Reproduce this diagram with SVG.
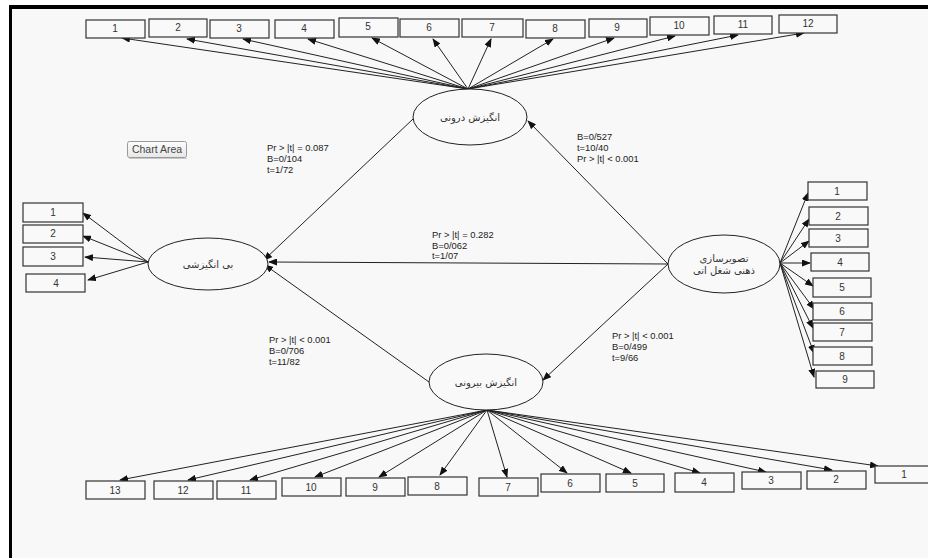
<svg xmlns="http://www.w3.org/2000/svg" width="928" height="558" viewBox="0 0 928 558">
<defs>
<marker id="ah" markerWidth="9" markerHeight="7" refX="8" refY="3.5" orient="auto" markerUnits="userSpaceOnUse">
<path d="M0,0 L9,3.5 L0,7 z" fill="#111"/>
</marker>
<linearGradient id="btn" x1="0" y1="0" x2="0" y2="1">
<stop offset="0" stop-color="#fdfdfd"/>
<stop offset="1" stop-color="#e6e6e6"/>
</linearGradient>
</defs>
<style>
.box{fill:#f9f9f9;stroke:#333;stroke-width:1.2}
.bt{font-family:"Liberation Sans",Arial,sans-serif;font-size:10px;fill:#333;text-anchor:middle}
.ell{fill:#f9f9f9;stroke:#222;stroke-width:1}
.fa{font-family:"DejaVu Sans","Noto Sans",sans-serif;font-size:10px;fill:#333;text-anchor:middle}
.lab{font-family:"Liberation Sans",Arial,sans-serif;font-size:9.4px;fill:#222}
.c line{stroke:#222;stroke-width:1;marker-end:url(#ah)}
</style>
<rect x="0" y="0" width="928" height="558" fill="#ffffff"/>
<rect x="10" y="7" width="918" height="551" fill="#f8f8f8"/>
<line x1="9" y1="7" x2="928" y2="7" stroke="#000" stroke-width="4"/>
<line x1="10.5" y1="5" x2="10.5" y2="558" stroke="#000" stroke-width="3"/>

<g id="chart-area">
<rect x="127.5" y="141.5" width="59" height="16" rx="2" fill="url(#btn)" stroke="#9a9a9a"/>
<line x1="129" y1="158.5" x2="187" y2="158.5" stroke="#c8c8c8"/>
<text x="157" y="153" font-family="Liberation Sans,Arial,sans-serif" font-size="10.5" fill="#444" text-anchor="middle">Chart Area</text>
</g>

<g id="connectors" class="c">
<line x1="468" y1="89" x2="122" y2="38"/>
<line x1="468" y1="89" x2="187" y2="39"/>
<line x1="468" y1="89" x2="243" y2="39"/>
<line x1="468" y1="89" x2="308" y2="39"/>
<line x1="468" y1="89" x2="372" y2="38"/>
<line x1="468" y1="89" x2="433" y2="39"/>
<line x1="468" y1="89" x2="491" y2="39"/>
<line x1="468" y1="89" x2="553" y2="39"/>
<line x1="468" y1="89" x2="614" y2="38"/>
<line x1="468" y1="89" x2="675" y2="36"/>
<line x1="468" y1="89" x2="738" y2="35"/>
<line x1="468" y1="89" x2="804" y2="33"/>
<line x1="148" y1="262" x2="83" y2="213"/>
<line x1="148" y1="262" x2="83" y2="236"/>
<line x1="148" y1="262" x2="85" y2="257"/>
<line x1="148" y1="262" x2="88" y2="280"/>
<line x1="780" y1="263" x2="808" y2="193"/>
<line x1="780" y1="263" x2="809" y2="219"/>
<line x1="780" y1="263" x2="809" y2="241"/>
<line x1="780" y1="263" x2="810" y2="263"/>
<line x1="780" y1="263" x2="813" y2="286"/>
<line x1="780" y1="263" x2="814" y2="309"/>
<line x1="780" y1="263" x2="813" y2="328"/>
<line x1="780" y1="263" x2="814" y2="353"/>
<line x1="780" y1="263" x2="814" y2="377"/>
<line x1="487" y1="410" x2="120" y2="480"/>
<line x1="487" y1="410" x2="188" y2="480"/>
<line x1="487" y1="410" x2="250" y2="480"/>
<line x1="487" y1="410" x2="315" y2="477"/>
<line x1="487" y1="410" x2="379" y2="477"/>
<line x1="487" y1="410" x2="440" y2="475"/>
<line x1="487" y1="410" x2="507" y2="477"/>
<line x1="487" y1="410" x2="567" y2="473"/>
<line x1="487" y1="410" x2="631" y2="473"/>
<line x1="487" y1="410" x2="700" y2="473"/>
<line x1="487" y1="410" x2="766" y2="472"/>
<line x1="487" y1="410" x2="832" y2="470"/>
<line x1="487" y1="410" x2="878" y2="466"/>
<line x1="668" y1="264" x2="528" y2="121"/>
<line x1="413" y1="119" x2="264" y2="260"/>
<line x1="668" y1="264" x2="269" y2="262"/>
<line x1="429" y1="382" x2="265" y2="265"/>
<line x1="668" y1="264" x2="543" y2="380"/>
</g>

<g id="n-darooni">
<ellipse class="ell" cx="470" cy="117" rx="57" ry="28"/>
<text class="fa" x="470" y="121" direction="rtl">انگیزش درونی</text>
</g>
<g id="n-bianghizeshi">
<ellipse class="ell" cx="208" cy="264" rx="60" ry="26"/>
<text class="fa" x="208" y="268" direction="rtl">بی انگیزشی</text>
</g>
<g id="n-tasvirsazi">
<ellipse class="ell" cx="724" cy="264" rx="56" ry="29"/>
<text class="fa" x="724" y="262" direction="rtl">تصویرسازی</text>
<text class="fa" x="724" y="274" direction="rtl">ذهنی شغل اتی</text>
</g>
<g id="n-birooni">
<ellipse class="ell" cx="486" cy="382" rx="57" ry="28"/>
<text class="fa" x="486" y="386" direction="rtl">انگیزش بیرونی</text>
</g>

<g id="top-items">
<g id="t1"><rect class="box" x="86" y="20" width="59" height="18"/><text class="bt" x="115" y="32">1</text></g>
<g id="t2"><rect class="box" x="149" y="19" width="58" height="18"/><text class="bt" x="178" y="31">2</text></g>
<g id="t3"><rect class="box" x="210" y="20" width="59" height="18"/><text class="bt" x="239" y="32">3</text></g>
<g id="t4"><rect class="box" x="275" y="20" width="59" height="18"/><text class="bt" x="304" y="32">4</text></g>
<g id="t5"><rect class="box" x="339" y="18" width="59" height="19"/><text class="bt" x="368" y="30">5</text></g>
<g id="t6"><rect class="box" x="400" y="19" width="59" height="18"/><text class="bt" x="429" y="31">6</text></g>
<g id="t7"><rect class="box" x="462" y="19" width="61" height="18"/><text class="bt" x="492" y="31">7</text></g>
<g id="t8"><rect class="box" x="526" y="20" width="59" height="18"/><text class="bt" x="555" y="32">8</text></g>
<g id="t9"><rect class="box" x="589" y="19" width="58" height="18"/><text class="bt" x="617" y="31">9</text></g>
<g id="t10"><rect class="box" x="650" y="17" width="59" height="18"/><text class="bt" x="679" y="29">10</text></g>
<g id="t11"><rect class="box" x="714" y="16" width="58" height="18"/><text class="bt" x="743" y="28">11</text></g>
<g id="t12"><rect class="box" x="779" y="15" width="58" height="18"/><text class="bt" x="808" y="27">12</text></g>
</g>

<g id="left-items">
<g id="l1"><rect class="box" x="23" y="203" width="60" height="19"/><text class="bt" x="53" y="216">1</text></g>
<g id="l2"><rect class="box" x="23" y="225" width="60" height="18"/><text class="bt" x="53" y="237">2</text></g>
<g id="l3"><rect class="box" x="23" y="247" width="60" height="19"/><text class="bt" x="53" y="260">3</text></g>
<g id="l4"><rect class="box" x="26" y="274" width="59" height="18"/><text class="bt" x="56" y="287">4</text></g>
</g>

<g id="right-items">
<g id="r1"><rect class="box" x="808" y="182" width="59" height="18"/><text class="bt" x="837" y="195">1</text></g>
<g id="r2"><rect class="box" x="809" y="207" width="59" height="18"/><text class="bt" x="838" y="220">2</text></g>
<g id="r3"><rect class="box" x="809" y="229" width="59" height="18"/><text class="bt" x="838" y="242">3</text></g>
<g id="r4"><rect class="box" x="811" y="253" width="58" height="18"/><text class="bt" x="840" y="266">4</text></g>
<g id="r5"><rect class="box" x="813" y="278" width="58" height="19"/><text class="bt" x="842" y="291">5</text></g>
<g id="r6"><rect class="box" x="813" y="303" width="59" height="17"/><text class="bt" x="842" y="315">6</text></g>
<g id="r7"><rect class="box" x="813" y="323" width="59" height="18"/><text class="bt" x="842" y="336">7</text></g>
<g id="r8"><rect class="box" x="813" y="347" width="59" height="18"/><text class="bt" x="842" y="360">8</text></g>
<g id="r9"><rect class="box" x="816" y="371" width="58" height="17"/><text class="bt" x="845" y="383">9</text></g>
</g>

<g id="bottom-items">
<g id="b13"><rect class="box" x="86" y="481" width="59" height="18"/><text class="bt" x="115" y="494">13</text></g>
<g id="b12"><rect class="box" x="154" y="481" width="59" height="18"/><text class="bt" x="183" y="494">12</text></g>
<g id="b11"><rect class="box" x="217" y="481" width="59" height="18"/><text class="bt" x="246" y="494">11</text></g>
<g id="b10"><rect class="box" x="282" y="478" width="59" height="18"/><text class="bt" x="311" y="491">10</text></g>
<g id="b9"><rect class="box" x="346" y="478" width="59" height="18"/><text class="bt" x="375" y="491">9</text></g>
<g id="b8"><rect class="box" x="408" y="477" width="59" height="18"/><text class="bt" x="437" y="490">8</text></g>
<g id="b7"><rect class="box" x="479" y="478" width="59" height="18"/><text class="bt" x="508" y="491">7</text></g>
<g id="b6"><rect class="box" x="541" y="474" width="59" height="18"/><text class="bt" x="570" y="487">6</text></g>
<g id="b5"><rect class="box" x="606" y="474" width="58" height="18"/><text class="bt" x="635" y="487">5</text></g>
<g id="b4"><rect class="box" x="675" y="473" width="59" height="19"/><text class="bt" x="704" y="486">4</text></g>
<g id="b3"><rect class="box" x="742" y="472" width="59" height="17"/><text class="bt" x="771" y="484">3</text></g>
<g id="b2"><rect class="box" x="807" y="471" width="59" height="18"/><text class="bt" x="836" y="483">2</text></g>
<g id="b1"><rect class="box" x="875" y="466" width="59" height="17"/><text class="bt" x="904" y="478">1</text></g>
</g>

<g id="labels">
<text class="lab" x="267" y="151"><tspan x="267">Pr &gt; |t| = 0.087</tspan><tspan x="267" dy="11">B=0/104</tspan><tspan x="267" dy="11">t=1/72</tspan></text>
<text class="lab" x="577" y="140"><tspan x="577">B=0/527</tspan><tspan x="577" dy="11">t=10/40</tspan><tspan x="577" dy="11">Pr &gt; |t| &lt; 0.001</tspan></text>
<text class="lab" x="432" y="238"><tspan x="432">Pr &gt; |t| = 0.282</tspan><tspan x="432" dy="10.5">B=0/062</tspan><tspan x="432" dy="10.5">t=1/07</tspan></text>
<text class="lab" x="269" y="343"><tspan x="269">Pr &gt; |t| &lt; 0.001</tspan><tspan x="269" dy="11">B=0/706</tspan><tspan x="269" dy="11">t=11/82</tspan></text>
<text class="lab" x="612" y="339"><tspan x="612">Pr &gt; |t| &lt; 0.001</tspan><tspan x="612" dy="11">B=0/499</tspan><tspan x="612" dy="11">t=9/66</tspan></text>
</g>
</svg>
